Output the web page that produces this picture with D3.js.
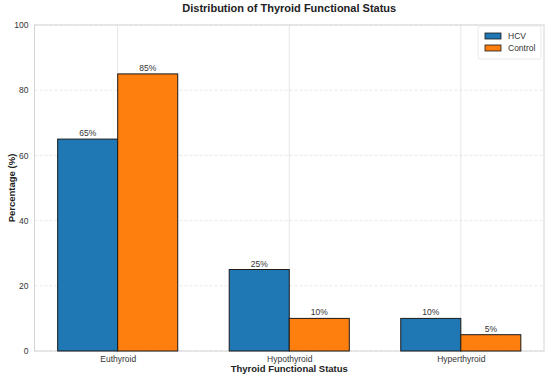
<!DOCTYPE html>
<html lang="en">
<head>
<meta charset="utf-8">
<title>Distribution of Thyroid Functional Status</title>
<script src="https://d3js.org/d3.v7.min.js"></script>
<style>
	body { margin: 0; background: #fff; }
	svg { font-family: "Liberation Sans", Arial, sans-serif; }
	.axis path, .axis line { display: none; }
	.axis text { font-size: 8.5px; fill: #333; }
</style>
</head>
<body>
<script>

//Data
var categories = ["Euthyroid", "Hypothyroid", "Hyperthyroid"];
var seriesNames = ["HCV", "Control"];
var hcvValues = [65, 25, 10];
var controlValues = [85, 10, 5];
var yTicks = [0, 20, 40, 60, 80, 100];
var colors = ["#1f77b4", "#ff7f0e"];

var w = 550, h = 376;
var margin = { top: 25, right: 6, bottom: 25, left: 34.5 };

var svg = d3.select("body").append("svg")
	.attr("width", w)
	.attr("height", h);

//Scales: categories at 0,1,2 with bars of width 0.35
var barW = 0.35;
var xScale = d3.scaleLinear()
	.domain([-0.485, categories.length - 1 + 0.485])
	.range([margin.left, w - margin.right]);

var yScale = d3.scaleLinear()
	.domain([0, 100])
	.range([h - margin.bottom, margin.top]);

//Grid
svg.append("g").selectAll("line")
	.data(yTicks)
	.enter().append("line")
	.attr("x1", xScale.range()[0]).attr("x2", xScale.range()[1])
	.attr("y1", function (d) { return yScale(d); })
	.attr("y2", function (d) { return yScale(d); })
	.attr("stroke", "#e2e2e2")
	.attr("stroke-width", 0.8)
	.attr("stroke-dasharray", "3,2");

svg.append("g").selectAll("line")
	.data(categories)
	.enter().append("line")
	.attr("x1", function (d, i) { return xScale(i); })
	.attr("x2", function (d, i) { return xScale(i); })
	.attr("y1", yScale.range()[0]).attr("y2", yScale.range()[1])
	.attr("stroke", "#e0e0e0")
	.attr("stroke-width", 0.8);

//Frame
svg.append("rect")
	.attr("x", xScale.range()[0])
	.attr("y", yScale.range()[1])
	.attr("width", xScale.range()[1] - xScale.range()[0])
	.attr("height", yScale.range()[0] - yScale.range()[1])
	.attr("fill", "none")
	.attr("stroke", "#d4d4d4")
	.attr("stroke-width", 1);

//Bars
var series = [hcvValues, controlValues];
series.forEach(function (vals, s) {
	var offset = (s === 0 ? -barW : 0);
	svg.append("g").selectAll("rect")
		.data(vals)
		.enter().append("rect")
		.attr("x", function (d, i) { return xScale(i + offset); })
		.attr("y", function (d) { return yScale(d); })
		.attr("width", xScale(barW) - xScale(0))
		.attr("height", function (d) { return yScale(0) - yScale(d); })
		.attr("fill", colors[s])
		.attr("stroke", "#1a1a1a")
		.attr("stroke-width", 1);

	svg.append("g").selectAll("text")
		.data(vals)
		.enter().append("text")
		.attr("x", function (d, i) { return xScale(i + offset + barW / 2); })
		.attr("y", function (d) { return yScale(d) - 3; })
		.attr("text-anchor", "middle")
		.attr("font-size", "8.5px")
		.attr("fill", "#333")
		.text(function (d) { return d + "%"; });
});

//Axes
var xAxis = d3.axisBottom(xScale)
	.tickValues(d3.range(categories.length))
	.tickFormat(function (d) { return categories[d]; })
	.tickSize(0).tickPadding(5);

svg.append("g")
	.attr("class", "axis")
	.attr("transform", "translate(0," + yScale(0) + ")")
	.call(xAxis);

var yAxis = d3.axisLeft(yScale)
	.tickValues(yTicks)
	.tickSize(0).tickPadding(6);

svg.append("g")
	.attr("class", "axis")
	.attr("transform", "translate(" + xScale.range()[0] + ",0)")
	.call(yAxis);

//Titles
svg.append("text")
	.attr("x", (xScale.range()[0] + xScale.range()[1]) / 2)
	.attr("y", 12)
	.attr("text-anchor", "middle")
	.attr("font-size", "11px")
	.attr("font-weight", "bold")
	.attr("fill", "#222")
	.text("Distribution of Thyroid Functional Status");

svg.append("text")
	.attr("x", (xScale.range()[0] + xScale.range()[1]) / 2)
	.attr("y", 372)
	.attr("text-anchor", "middle")
	.attr("font-size", "9.5px")
	.attr("font-weight", "bold")
	.attr("fill", "#222")
	.text("Thyroid Functional Status");

svg.append("text")
	.attr("transform", "translate(15," + ((yScale.range()[0] + yScale.range()[1]) / 2) + ") rotate(-90)")
	.attr("text-anchor", "middle")
	.attr("font-size", "9.5px")
	.attr("font-weight", "bold")
	.attr("fill", "#222")
	.text("Percentage (%)");

//Legend
var legend = svg.append("g").attr("transform", "translate(478,26)");
legend.append("rect")
	.attr("width", 63).attr("height", 33)
	.attr("rx", 2)
	.attr("fill", "#fff").attr("fill-opacity", 0.8)
	.attr("stroke", "#e4e4e4").attr("stroke-width", 0.8);
seriesNames.forEach(function (name, i) {
	legend.append("rect")
		.attr("x", 7).attr("y", 7 + i * 12)
		.attr("width", 16).attr("height", 6)
		.attr("fill", colors[i])
		.attr("stroke", "#1a1a1a").attr("stroke-width", 0.8);
	legend.append("text")
		.attr("x", 30).attr("y", 13 + i * 12)
		.attr("font-size", "8.5px")
		.attr("fill", "#333")
		.text(name);
});

</script>
</body>
</html>
